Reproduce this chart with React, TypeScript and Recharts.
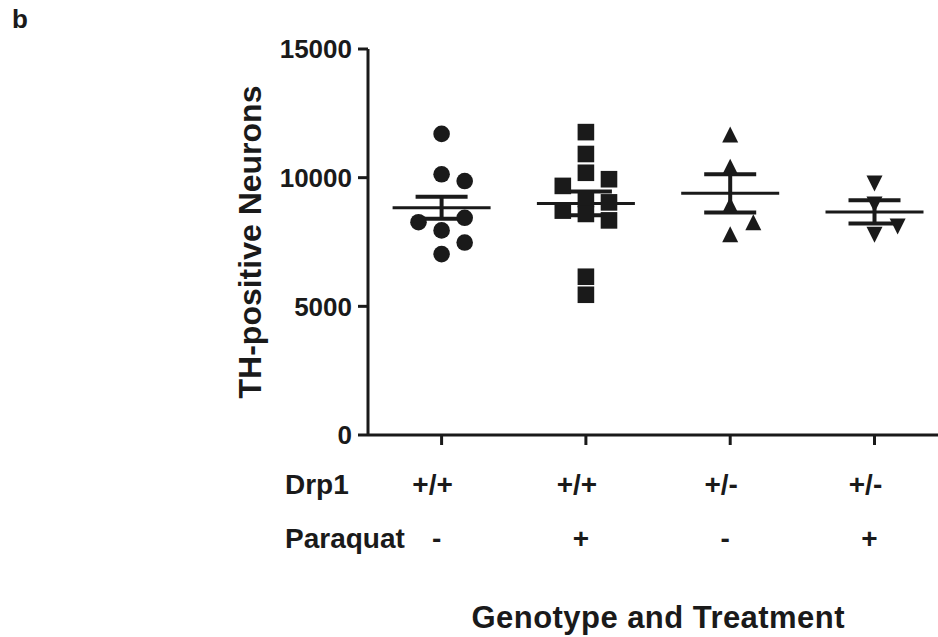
import { ScatterChart, Scatter, XAxis, YAxis, ErrorBar, Customized } from 'recharts';

// TH-positive neuron counts per animal
const wtSaline = [11700, 10130, 9870, 7950, 8440, 8270, 7480, 7030];
const wtParaquat = [11770, 10920, 10190, 9940, 9680, 9170, 8590, 9040, 8720, 8340, 6150, 5450];
const hetSaline = [11640, 10390, 8900, 7760, 8230];
const hetParaquat = [9000, 7820, 8140, 9810];

// group mean and SEM as drawn
const means = [8830, 9000, 9390, 8670];
const sems = [430, 460, 740, 450];

const drp1 = ['+/+', '+/+', '+/-', '+/-'];
const paraquat = ['-', '+', '-', '+'];
const yTicks = [0, 5000, 10000, 15000];

const INK = '#1a1a1a';
const FONT = '"Liberation Sans", Arial, Helvetica, sans-serif';

// spread overlapping points sideways, like a column scatter
const LANES = [0, 1, -1, 2, -2, 3, -3];
function spread(values: number[], group: number, gap = 560, step = 0.16) {
  const placed: { lane: number; v: number }[] = [];
  return values.map((v) => {
    const lane =
      LANES.find((l) => placed.every((p) => p.lane !== l || Math.abs(p.v - v) >= gap)) ?? 0;
    placed.push({ lane, v });
    return { x: group + lane * step, y: v };
  });
}

const meanData = means.map((m, i) => ({ x: i + 1, y: m, sem: sems[i] }));

const Circle = ({ cx, cy }: any) => <circle cx={cx} cy={cy} r={8.3} fill={INK} />;
const Square = ({ cx, cy }: any) => <rect x={cx - 8.3} y={cy - 8.3} width={16.6} height={16.6} fill={INK} />;
const TriUp = ({ cx, cy }: any) => (
  <polygon points={`${cx},${cy - 9} ${cx - 8},${cy + 7} ${cx + 8},${cy + 7}`} fill={INK} />
);
const TriDown = ({ cx, cy }: any) => (
  <polygon points={`${cx},${cy + 9} ${cx - 8},${cy - 7} ${cx + 8},${cy - 7}`} fill={INK} />
);
const MeanLine = ({ cx, cy }: any) => (
  <line x1={cx - 49} x2={cx + 49} y1={cy} y2={cy} stroke={INK} strokeWidth={3} />
);

function GroupTick({ x, payload }: any) {
  const i = Math.round(payload.value) - 1;
  return (
    <g fontFamily={FONT} fontWeight="bold" fill={INK}>
      <text x={x - 9} y={494} textAnchor="middle" fontSize={28}>{drp1[i]}</text>
      <text x={x - 5} y={548} textAnchor="middle" fontSize={28}>{paraquat[i]}</text>
    </g>
  );
}

function Labels() {
  return (
    <g fontFamily={FONT} fontWeight="bold" fill={INK}>
      <text x={12} y={28} fontSize={26}>b</text>
      <text x={285} y={494} fontSize={28}>Drp1</text>
      <text x={285} y={548} fontSize={28}>Paraquat</text>
      <text x={658} y={628} fontSize={31} textAnchor="middle" textLength={373} lengthAdjust="spacing">
        Genotype and Treatment
      </text>
      <text x={261} y={242} fontSize={32} textAnchor="middle" transform="rotate(-90, 261, 242)">
        TH-positive Neurons
      </text>
    </g>
  );
}

export default function App() {
  return (
    <div style={{ position: 'absolute', left: 0, top: 0, width: 938, height: 637, background: '#fff' }}>
      <ScatterChart width={938} height={637} margin={{ top: 49, right: 0, bottom: 102, left: 288 }}>
        <XAxis
          type="number"
          dataKey="x"
          domain={[0.49, 4.44]}
          ticks={[1, 2, 3, 4]}
          allowDataOverflow
          height={100}
          tickSize={10}
          axisLine={{ stroke: INK, strokeWidth: 3 }}
          tickLine={{ stroke: INK, strokeWidth: 3 }}
          tick={<GroupTick />}
        />
        <YAxis
          type="number"
          dataKey="y"
          domain={[0, 15000]}
          ticks={yTicks}
          width={80}
          tickSize={10}
          tickMargin={6}
          axisLine={{ stroke: INK, strokeWidth: 3 }}
          tickLine={{ stroke: INK, strokeWidth: 3 }}
          tick={{ fill: INK, fontSize: 26, fontWeight: 'bold', fontFamily: FONT }}
        />
        <Scatter data={spread(wtSaline, 1)} shape={<Circle />} isAnimationActive={false} />
        <Scatter data={spread(wtParaquat, 2)} shape={<Square />} isAnimationActive={false} />
        <Scatter data={spread(hetSaline, 3)} shape={<TriUp />} isAnimationActive={false} />
        <Scatter data={spread(hetParaquat, 4)} shape={<TriDown />} isAnimationActive={false} />
        <Scatter data={meanData} shape={<MeanLine />} isAnimationActive={false}>
          <ErrorBar dataKey="sem" direction="y" width={26} strokeWidth={4} stroke={INK} isAnimationActive={false} />
        </Scatter>
        <Customized component={Labels} />
      </ScatterChart>
    </div>
  );
}
